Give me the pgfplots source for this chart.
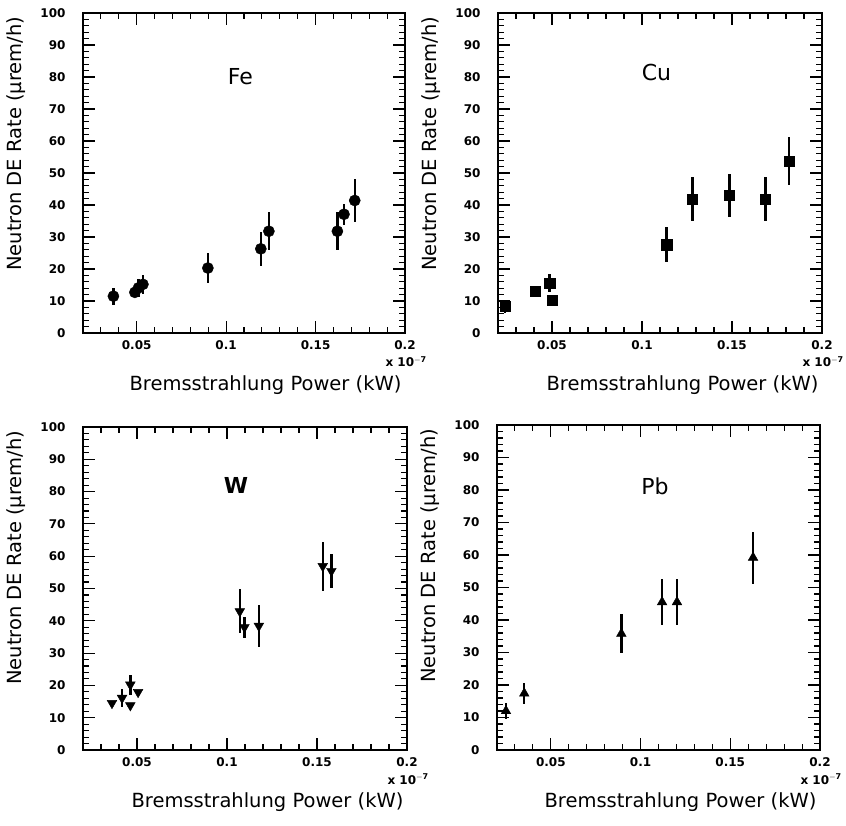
\documentclass[border=0pt]{standalone}
\usepackage{fontspec}
\setmainfont{DejaVu Sans}
\usepackage{pgfplots}
\pgfplotsset{compat=1.18}

% Shared look of the four panels
\pgfplotsset{
  panel/.style={
    scale only axis,
    width=323pt, height=321pt,
    xmin=0.02, xmax=0.2, ymin=0, ymax=100,
    clip=false,
    axis line style={line width=1.6pt},
    tick style={line width=1.1pt, black},
    tick align=inside,
    major tick length=12pt, minor tick length=6pt,
    xtick={0.05,0.1,0.15,0.2},
    xticklabels={0.05,0.1,0.15,0.2},
    minor xtick={0.03,0.04,0.06,0.07,0.08,0.09,0.11,0.12,0.13,0.14,0.16,0.17,0.18,0.19},
    ytick={0,10,...,100},
    minor y tick num=4,
    tick label style={font=\fontsize{12}{13}\selectfont\bfseries},
    /pgf/number format/assume math mode=true,
    yticklabel style={anchor=east, xshift=-14pt},
    xticklabel style={anchor=north, yshift=-4pt},
  },
  data/.style={only marks, black, mark options={fill=black, draw=black},
      error bars/y dir=both, error bars/y explicit,
      error bars/error mark=none,
      error bars/error bar style={line width=2.4pt, black}},
  axtitles/.style={
    after end axis/.append code={
      \node[anchor=base east, font=\fontsize{19.5}{21}\selectfont]
        at ([yshift=-58pt]rel axis cs:1,0) {Bremsstrahlung Power (kW)};
      \node[anchor=east, rotate=90, font=\fontsize{19.5}{21}\selectfont]
        at ([xshift=-67pt]rel axis cs:0,1) {Neutron DE Rate (μrem/h)};
      \node[anchor=east, inner sep=0pt, font=\fontsize{12}{13}\selectfont\bfseries]
        at ([xshift=22pt, yshift=-29pt]rel axis cs:1,0) {x 10$^{\mathbf{-7}}$};
    }
  },
}

\begin{document}
\begin{tikzpicture}
\path[use as bounding box] (0pt,0pt) rectangle (846pt,826pt);

% ---------- Fe ----------
\begin{axis}[panel, axtitles, at={(83pt,493pt)}, anchor=south west, width=322pt, height=320pt]
\addplot[data, mark=*, mark size=5.6pt] table[x=x, y=y, y error=e] {
x       y     e
0.0370  11.5  2.6
0.0490  12.7  1.5
0.0510  14.1  2.8
0.0535  15.2  3.0
0.0898  20.3  4.7
0.1194  26.3  5.3
0.1239  31.8  5.9
0.1622  31.8  5.9
0.1659  37.1  3.2
0.1719  41.4  6.6
};
\node[font=\fontsize{22}{24}\selectfont] at (axis cs:0.108,80) {Fe};
\end{axis}

% ---------- Cu ----------
\begin{axis}[panel, axtitles, at={(498pt,493pt)}, anchor=south west, width=324pt, height=320pt]
\addplot[data, mark=square*, mark size=5.2pt] table[x=x, y=y, y error=e] {
x       y     e
0.0240   8.4  2.0
0.0405  13.1  1.5
0.0487  15.6  2.9
0.0500  10.3  0.0
0.1137  27.6  5.5
0.1280  41.8  6.8
0.1485  43.1  6.7
0.1685  41.8  6.8
0.1818  53.7  7.5
};
\node[font=\fontsize{22}{24}\selectfont] at (axis cs:0.108,81.5) {Cu};
\end{axis}

% ---------- W ----------
\begin{axis}[panel, axtitles, at={(83pt,76pt)}, anchor=south west, width=324pt, height=323pt]
\addplot[data, mark=triangle*, mark size=5.6pt, mark options={rotate=180}] table[x=x, y=y, y error=e] {
x       y     e
0.0361  14.5  0.0
0.0417  16.1  2.9
0.0463  20.2  3.1
0.0463  13.8  0.0
0.0506  17.9  0.0
0.1071  42.9  6.8
0.1097  38.0  3.2
0.1177  38.4  6.4
0.1532  56.9  7.6
0.1580  55.4  5.4
};
\node[font=\fontsize{22}{24}\selectfont\bfseries] at (axis cs:0.105,82) {W};
\end{axis}

% ---------- Pb ----------
\begin{axis}[panel, axtitles, at={(497pt,76pt)}, anchor=south west, width=323pt, height=325pt]
\addplot[data, mark=triangle*, mark size=5.6pt] table[x=x, y=y, y error=e] {
x       y     e
0.0250  12.0  2.4
0.0352  17.4  3.1
0.0893  35.8  6.1
0.1120  45.5  7.0
0.1203  45.5  7.0
0.1627  59.2  8.0
};
\node[font=\fontsize{22}{24}\selectfont] at (axis cs:0.108,81) {Pb};
\end{axis}
\end{tikzpicture}
\end{document}
